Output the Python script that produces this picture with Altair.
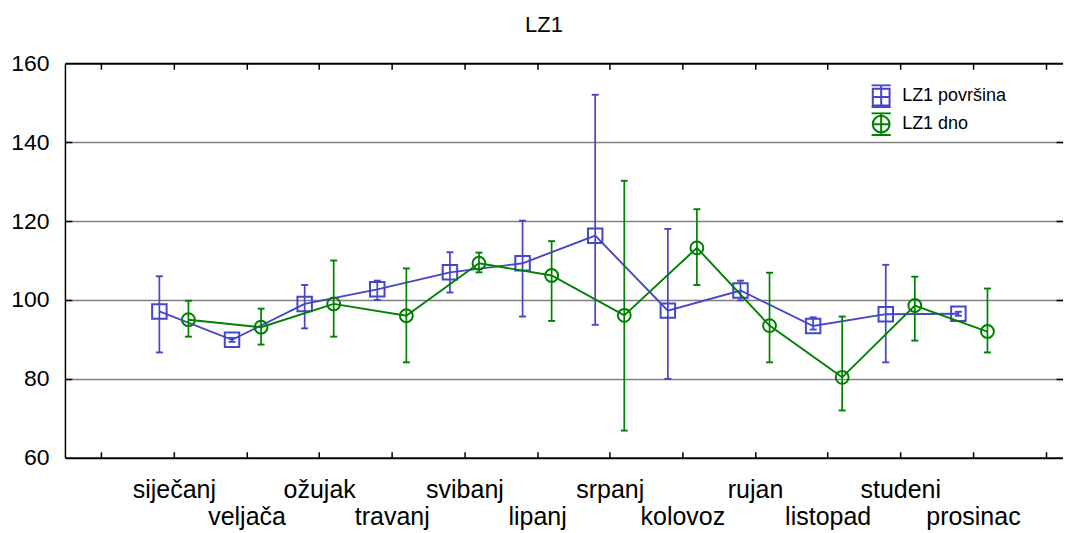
import altair as alt
import pandas as pd

months = ["siječanj", "veljača", "ožujak", "travanj", "svibanj", "lipanj",
          "srpanj", "kolovoz", "rujan", "listopad", "studeni", "prosinac"]

series_names = ["LZ1 površina", "LZ1 dno"]
series_colors = ["#4646c8", "#008000"]
series_offsets = [-0.2, 0.2]

pov_mean = [97.1, 89.9, 99.0, 102.7, 107.0, 109.3, 116.3, 97.3, 102.4, 93.4, 96.4, 96.5]
pov_lo = [86.7, 89.4, 92.8, 100.0, 101.9, 95.8, 93.7, 80.0, 99.9, 92.5, 84.2, 96.0]
pov_hi = [106.0, 90.4, 103.8, 104.9, 112.1, 120.1, 152.0, 118.0, 104.9, 95.6, 108.9, 97.0]

dno_mean = [95.0, 93.1, 99.0, 96.0, 109.3, 106.2, 96.1, 113.2, 93.5, 80.4, 98.6, 92.0]
dno_lo = [90.7, 88.7, 90.7, 84.2, 107.0, 94.7, 66.9, 103.8, 84.2, 72.0, 89.7, 86.7]
dno_hi = [99.8, 97.8, 110.0, 108.0, 112.0, 114.9, 130.2, 123.0, 106.9, 95.8, 105.9, 102.9]

y_ticks = [60, 80, 100, 120, 140, 160]
x_ticks = list(range(14))

rows = []
for name, off, mean, lo, hi in zip(series_names, series_offsets,
                                   [pov_mean, dno_mean], [pov_lo, dno_lo], [pov_hi, dno_hi]):
    for i in range(12):
        rows.append(dict(series=name, month=i + 1, x=i + 1 + off,
                         mean=mean[i], lo=lo[i], hi=hi[i]))
df = pd.DataFrame(rows)

W = 999
H = 395
FONT = "Liberation Sans"

xscale = alt.Scale(domain=[-0.5, 13.24], nice=False, zero=False)
yscale = alt.Scale(domain=[60, 160], nice=False, zero=False)

edge_test = "datum.value == 60 || datum.value == 160"

month_js = "[" + ",".join("'" + m + "'" for m in months) + "]"
x_axis = alt.Axis(
    values=x_ticks,
    labelExpr=f"datum.value >= 1 && datum.value <= 12 ? {month_js}[datum.value - 1] : ''",
    ticks=False, tickSize=0, domain=False,
    grid=True, gridColor="black", gridWidth=1.5, gridDash=[6, H - 12, 6],
    labelFont=FONT, labelFontSize=25, labelColor="black",
    labelPadding={"condition": {"test": "datum.value % 2 == 0", "value": 47}, "value": 20},
    labelOverlap=False, labelBound=False, labelFlush=False, labelBaseline="top",
    title=None,
)
y_axis_left = alt.Axis(
    values=y_ticks, orient="left",
    ticks=False, tickSize=0,
    domain=True, domainColor="black", domainWidth=1.5,
    grid=True,
    gridColor={"condition": {"test": edge_test, "value": "black"}, "value": "#808080"},
    gridWidth={"condition": {"test": edge_test, "value": 2}, "value": 1.5},
    labelFont=FONT, labelFontSize=23, labelColor="black", labelPadding=16,
    title=None,
)
y_axis_right = alt.Axis(
    values=[80, 100, 120, 140], orient="right",
    ticks=False, tickSize=0, domain=False, labels=False,
    grid=True, gridColor="black", gridWidth=1.5, gridDash=[7, W - 14, 7],
    title=None,
)

X = alt.X("x:Q", scale=xscale, axis=x_axis)

path_sq = "M-0.7,-0.62H0.7V0.78H-0.7Z M0,-0.9V0.9 M-0.8,-0.9H0.8 M-0.8,0.9H0.8 M-0.7,0.08H0.7"
path_ci = ("M0.7,0A0.7,0.7 0 1,1 -0.7,0A0.7,0.7 0 1,1 0.7,0Z "
           "M0,-0.9V0.9 M-0.8,-0.9H0.8 M-0.8,0.9H0.8 M-0.7,0H0.7")

base = alt.Chart(df)
layers = []
first = True
for name, col, shp, sz in zip(series_names, series_colors, ["square", "circle"], [210, 165]):
    d = base.transform_filter(alt.datum.series == name)
    yax = y_axis_left if first else None
    first = False
    layers.append(d.mark_line(color=col, strokeWidth=1.9, opacity=1).encode(
        x=X, y=alt.Y("mean:Q", scale=yscale, axis=yax)))
    layers.append(d.mark_rule(color=col, strokeWidth=1.7, opacity=1).encode(
        x=X, y=alt.Y("lo:Q", scale=yscale, axis=None), y2="hi:Q"))
    for fld in ["lo", "hi"]:
        layers.append(d.mark_tick(color=col, orient="horizontal", size=7, thickness=1.9, opacity=1).encode(
            x=X, y=alt.Y(f"{fld}:Q", scale=yscale, axis=None)))
    layers.append(d.mark_point(shape=shp, size=sz, color=col, filled=False, strokeWidth=2, opacity=1).encode(
        x=X, y=alt.Y("mean:Q", scale=yscale, axis=None)))

legend_layer = base.mark_point(filled=False, opacity=0, strokeWidth=2).encode(
    x=X,
    y=alt.Y("mean:Q", scale=yscale, axis=y_axis_right),
    color=alt.Color("series:N", scale=alt.Scale(domain=series_names, range=series_colors),
                    legend=alt.Legend(title=None)),
    shape=alt.Shape("series:N", scale=alt.Scale(domain=series_names, range=[path_sq, path_ci]),
                    legend=alt.Legend(title=None)),
)
layers.append(legend_layer)

chart = alt.layer(*layers).properties(
    width=W, height=H,
    title=alt.TitleParams("LZ1", font=FONT, fontSize=22, fontWeight="normal", color="black",
                          offset=15, dx=-20, anchor="middle"),
    padding={"left": 2, "top": 6, "right": 0, "bottom": 0},
).resolve_axis(y="independent").configure_view(
    stroke=None
).configure_legend(
    orient="none", legendX=804, legendY=21,
    labelFont=FONT, labelFontSize=18, labelColor="black",
    symbolSize=576, symbolStrokeWidth=2, rowPadding=4, clipHeight=24,
    labelOffset=8, padding=0,
)

chart.save("out.html", embed_options={"renderer": "svg", "actions": False})
